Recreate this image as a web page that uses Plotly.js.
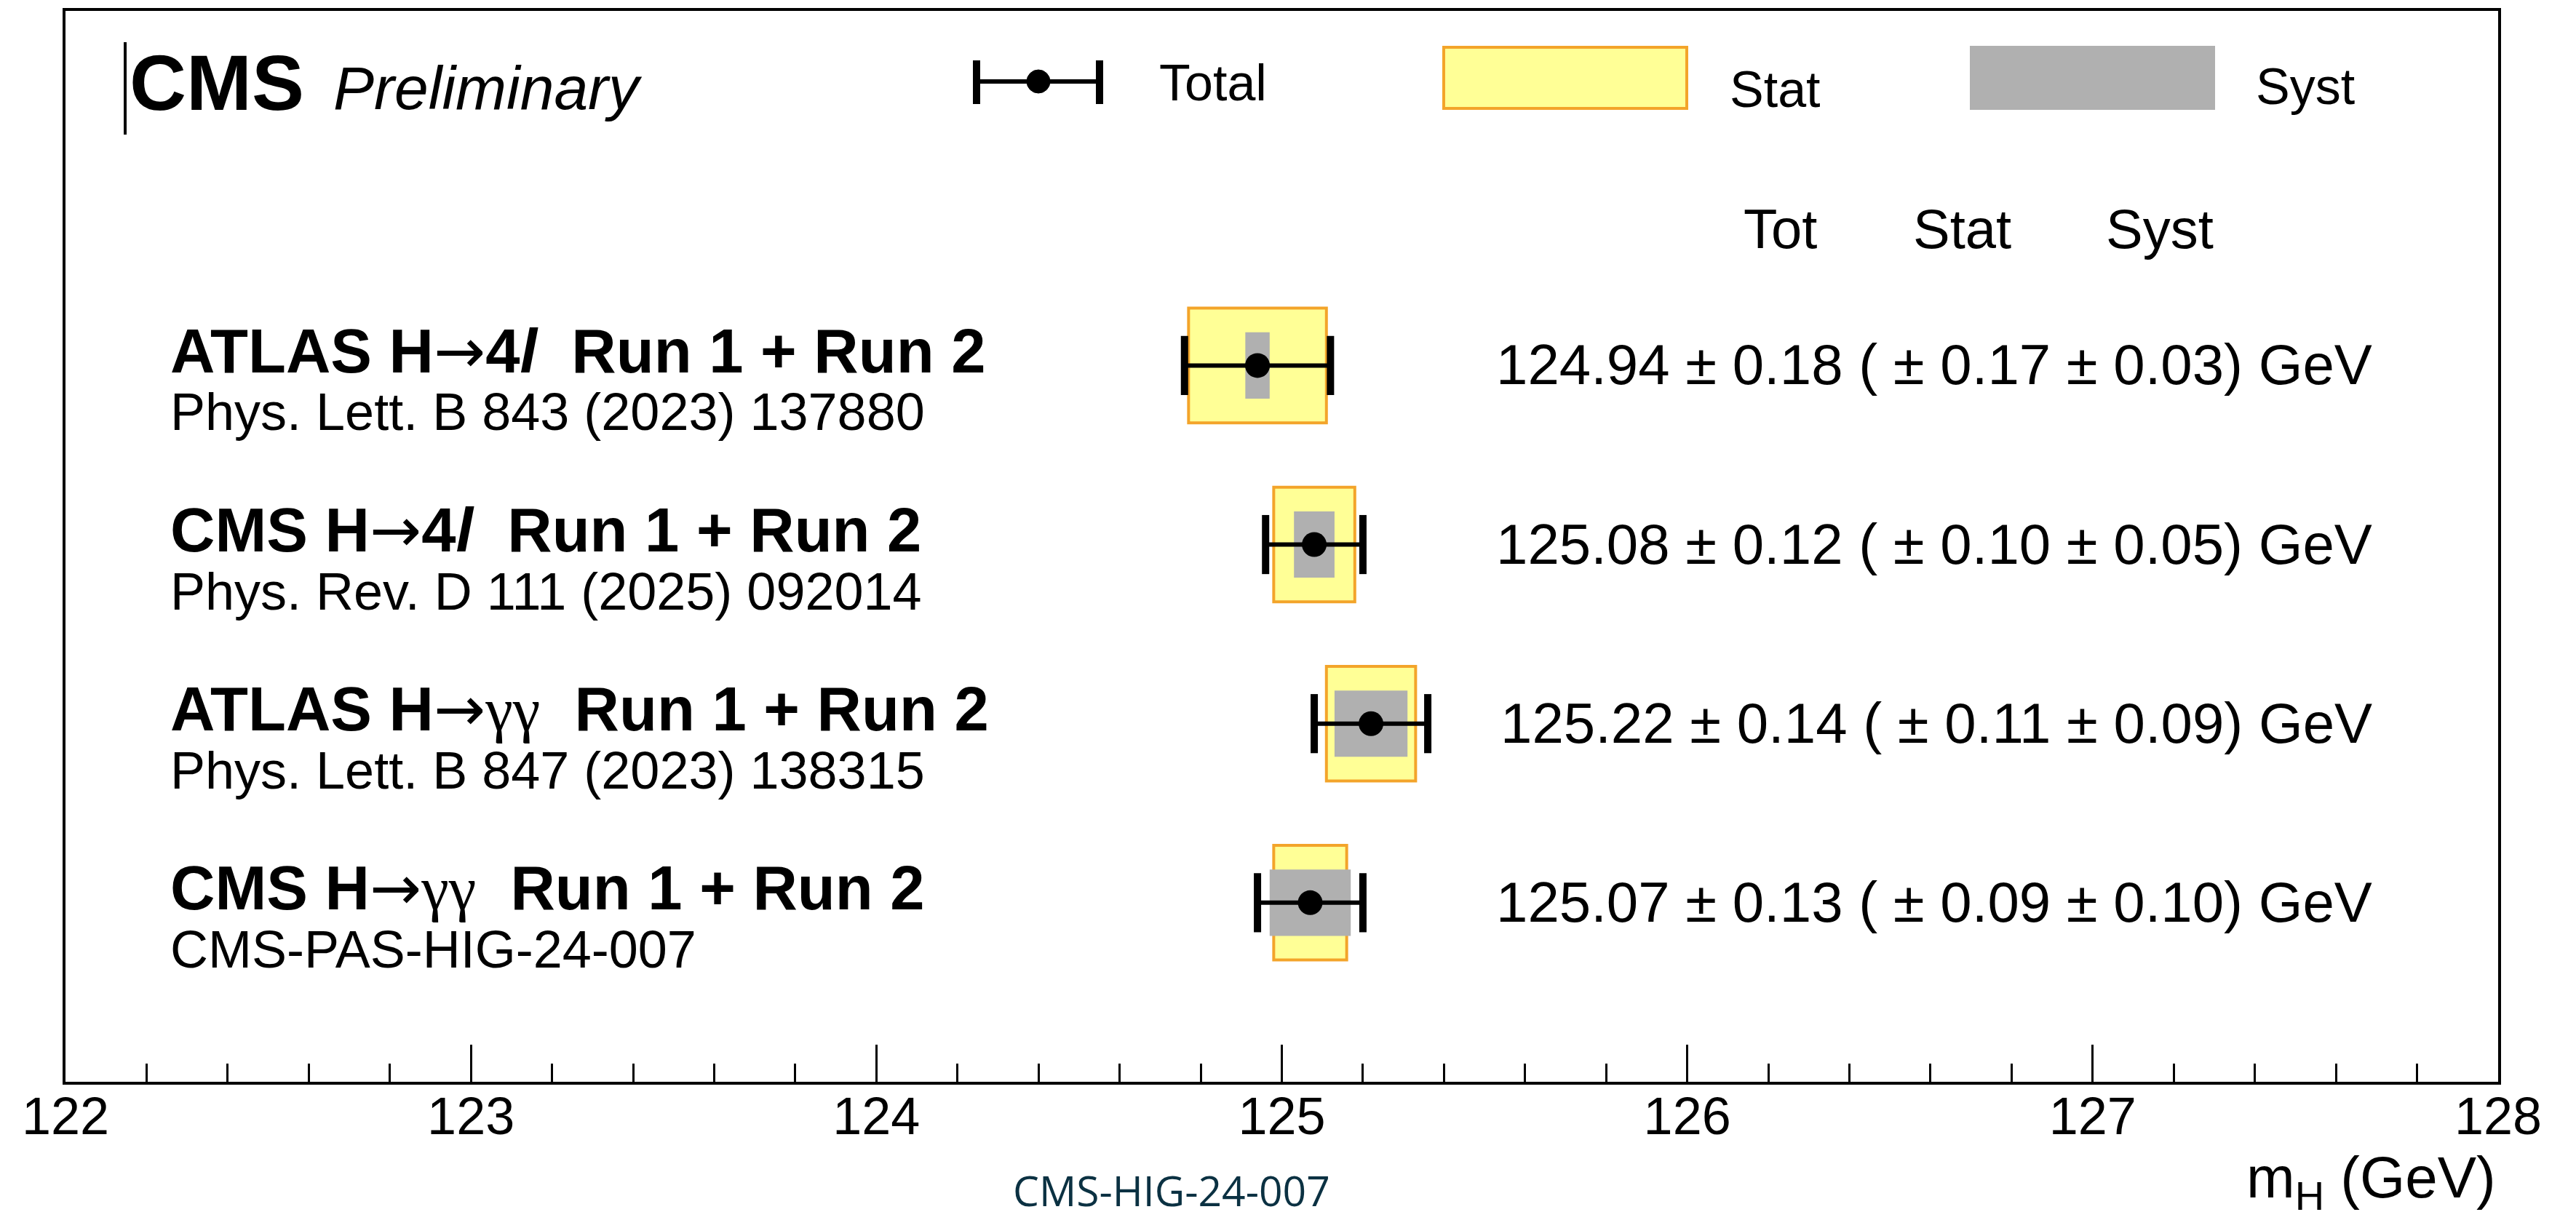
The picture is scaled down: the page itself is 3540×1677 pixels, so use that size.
<!DOCTYPE html>
<html>
<head>
<meta charset="utf-8">
<script src="https://cdn.plot.ly/plotly-3.0.1.min.js"></script>
<style>
  html, body { margin: 0; padding: 0; background: #ffffff; }
  #chart { width: 3540px; height: 1677px; }
</style>
</head>
<body>
<div id="chart"></div>
<script>
// Higgs boson mass measurements (GeV)
const ARROW = "<span style=\"font-family:'DejaVu Sans';font-weight:normal\">→</span>";
const GAMMAS = "<span style=\"font-family:'Liberation Serif';font-weight:normal\">γγ</span>";
const analyses = [
  "ATLAS H" + ARROW + "4<i>l</i>",
  "CMS H" + ARROW + "4<i>l</i>",
  "ATLAS H" + ARROW + GAMMAS,
  "CMS H" + ARROW + GAMMAS
];
const references = [
  "Phys. Lett. B 843 (2023) 137880",
  "Phys. Rev. D 111 (2025) 092014",
  "Phys. Lett. B 847 (2023) 138315",
  "CMS-PAS-HIG-24-007"
];
const massValues = [124.94, 125.08, 125.22, 125.07];
const totUnc = [0.18, 0.12, 0.14, 0.13];
const statUnc = [0.17, 0.10, 0.11, 0.09];
const systUnc = [0.03, 0.05, 0.09, 0.10];
const xTickValues = [122, 123, 124, 125, 126, 127, 128];

// Figure geometry (pixels)
const W = 3540, H = 1677;
const PL = 90, PR = 3433, PT = 15, PB = 1487;
const px = x => (x - PL) / (PR - PL);
const py = y => (PB - y) / (PB - PT);

const FONT = "Liberation Sans, Arial, Helvetica, sans-serif";
const NB = "\u00a0";

// Row positions, top row first
const rowPos = massValues.map((_, i) => massValues.length - i);

const statFill = "#ffff96";
const statLine = "#f3a42a";
const systFill = "#b0b0b0";

const traces = [
  {
    type: "bar", orientation: "h",
    y: rowPos,
    x: statUnc.map(s => 2 * s),
    base: massValues.map((v, i) => v - statUnc[i]),
    width: 0.64,
    marker: { color: statFill, line: { color: statLine, width: 4 } },
    hoverinfo: "skip", showlegend: false
  },
  {
    type: "bar", orientation: "h",
    y: rowPos,
    x: systUnc.map(s => 2 * s),
    base: massValues.map((v, i) => v - systUnc[i]),
    width: 0.37,
    marker: { color: systFill, line: { width: 0 } },
    hoverinfo: "skip", showlegend: false
  },
  {
    type: "scatter", mode: "markers",
    x: massValues, y: rowPos,
    error_x: { type: "data", array: totUnc, visible: true, color: "#000000", thickness: 6, width: 0 },
    marker: { color: "#000000", size: 34, symbol: "circle" },
    hoverinfo: "skip", showlegend: false
  },
  {
    // end caps of the total uncertainty bars
    type: "scatter", mode: "markers",
    x: massValues.map((v, i) => v - totUnc[i]).concat(massValues.map((v, i) => v + totUnc[i])),
    y: rowPos.concat(rowPos),
    marker: { symbol: "line-ns", size: 58, color: "#000000", line: { color: "#000000", width: 10 } },
    hoverinfo: "skip", showlegend: false
  }
];

const annotations = [];
const shapes = [];

function addText(text, x, y, size, opts) {
  annotations.push(Object.assign({
    text: text, x: x, y: y, xref: "paper", yref: "paper",
    showarrow: false, xanchor: "left", yanchor: "middle",
    font: { family: FONT, size: size, color: "#000000" }
  }, opts || {}));
}

// Header
addText("<b>CMS</b>", px(176), py(114), 108);
addText("<i>Preliminary</i>", px(456), py(121), 84);
shapes.push({ type: "line", xref: "paper", yref: "paper",
  x0: px(172), x1: px(172), y0: py(58), y1: py(185),
  line: { color: "#000000", width: 4 } });

// Legend: total
shapes.push({ type: "line", xref: "paper", yref: "paper",
  x0: px(1340), x1: px(1513), y0: py(112), y1: py(112),
  line: { color: "#000000", width: 6 } });
[1342, 1511].forEach(cx => shapes.push({ type: "line", xref: "paper", yref: "paper",
  x0: px(cx), x1: px(cx), y0: py(83), y1: py(143),
  line: { color: "#000000", width: 10 } }));
shapes.push({ type: "circle", xref: "paper", yref: "paper",
  x0: px(1411), x1: px(1443), y0: py(128), y1: py(96),
  fillcolor: "#000000", line: { color: "#000000", width: 1 } });
addText("Total", px(1591), py(114), 70);

// Legend: stat
shapes.push({ type: "rect", xref: "paper", yref: "paper",
  x0: px(1984), x1: px(2318), y0: py(149), y1: py(65),
  fillcolor: statFill, line: { color: statLine, width: 4 } });
addText("Stat", px(2375), py(123), 70);

// Legend: syst
shapes.push({ type: "rect", xref: "paper", yref: "paper",
  x0: px(2707), x1: px(3044), y0: py(151), y1: py(63),
  fillcolor: systFill, line: { width: 0 } });
addText("Syst", px(3098), py(119), 70);

// Column headers
[["Tot", 2446], ["Stat", 2696], ["Syst", 2968]].forEach(([t, cx]) =>
  addText(t, px(cx), py(315), 76, { xanchor: "center" }));

// Per-measurement labels and values
analyses.forEach((name, i) => {
  annotations.push({
    text: "<b>" + name + NB + NB + "Run 1 + Run 2</b>",
    x: px(232), xref: "paper", y: rowPos[i], yref: "y", yshift: 20,
    xanchor: "left", yanchor: "middle", showarrow: false,
    font: { family: FONT, size: 85, color: "#000000" }
  });
  annotations.push({
    text: references[i],
    x: px(232), xref: "paper", y: rowPos[i], yref: "y", yshift: -64,
    xanchor: "left", yanchor: "middle", showarrow: false,
    font: { family: FONT, size: 72, color: "#000000" }
  });
  const f = v => v.toFixed(2);
  annotations.push({
    text: f(massValues[i]) + " ± " + f(totUnc[i]) + " ( ± " + f(statUnc[i]) + " ± " + f(systUnc[i]) + ") GeV",
    x: px(3262), xref: "paper", y: rowPos[i], yref: "y", yshift: 1,
    xanchor: "right", yanchor: "middle", showarrow: false,
    font: { family: FONT, size: 78, color: "#000000" }
  });
});

// Axis title and footer
addText("m<sub>H</sub> (GeV)", px(3432), py(1624), 80, { xanchor: "right" });
addText("CMS-HIG-24-007", px(1610), py(1676), 57,
  { xanchor: "center", yanchor: "bottom", borderpad: 0,
    font: { family: "Open Sans, DejaVu Sans, sans-serif", size: 57, color: "#0b3142" } });

const layout = {
  width: W, height: H,
  margin: { l: PL, r: W - PR, t: PT, b: H - PB, pad: 0 },
  paper_bgcolor: "#ffffff", plot_bgcolor: "#ffffff",
  showlegend: false,
  barmode: "overlay",
  xaxis: {
    range: [122, 128],
    tickmode: "array", tickvals: xTickValues, ticktext: xTickValues.map(String),
    ticks: "inside", ticklen: 51, tickwidth: 3, tickcolor: "#000000",
    ticklabelstandoff: -18,
    minor: { ticks: "inside", ticklen: 25, tickwidth: 3, tickcolor: "#000000", dtick: 0.2, tick0: 122, showgrid: false },
    tickfont: { family: FONT, size: 72, color: "#000000" },
    showgrid: false, zeroline: false,
    showline: true, linecolor: "#000000", linewidth: 4, mirror: true,
    fixedrange: true
  },
  yaxis: {
    range: [0, 5.98],
    showticklabels: false, ticks: "",
    showgrid: false, zeroline: false,
    showline: true, linecolor: "#000000", linewidth: 4, mirror: true,
    fixedrange: true
  },
  annotations: annotations,
  shapes: shapes
};

Plotly.newPlot("chart", traces, layout, { staticPlot: true, displayModeBar: false });
</script>
</body>
</html>
